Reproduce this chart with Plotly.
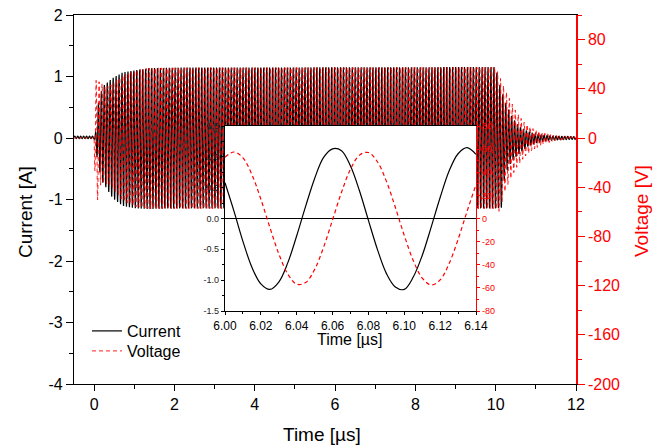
import numpy as np
import plotly.graph_objects as go

# ---------------- data ----------------
# RF carrier: period in microseconds, time of a current / voltage maximum
rf_period_us = 0.0735
current_peak_time = 6.0613
voltage_peak_time = 6.0786

# main-plot envelope of the current [A]
env_time_current = [-0.5, 0.0, 0.03, 0.10, 0.21, 0.46, 0.71, 1.04, 1.375, 2.0, 10.0,
                    10.1, 10.15, 10.22, 10.3, 10.4, 10.52, 10.65, 10.8, 11.0, 11.25, 11.5, 12.0]
env_upper_current = [0.03, 0.03, 0.05, 0.55, 0.84, 0.98, 1.07, 1.11, 1.14, 1.15, 1.16,
                     0.88, 0.78, 0.62, 0.50, 0.36, 0.24, 0.16, 0.11, 0.065, 0.04, 0.03, 0.02]
env_lower_current = [-0.01, -0.01, -0.10, -0.45, -0.72, -0.98, -1.11, -1.15, -1.16, -1.15, -1.15,
                     -1.14, -1.14, -0.66, -0.50, -0.38, -0.30, -0.22, -0.14, -0.08, -0.045, -0.03, -0.02]

# main-plot envelope of the voltage [V]
env_time_voltage = [-0.5, 0.0, 0.04, 0.17, 0.29, 0.46, 0.71, 1.04, 1.4, 10.0,
                    10.1, 10.2, 10.3, 10.5, 10.7, 10.9, 11.2, 11.5, 12.0]
env_upper_voltage = [0.5, 0.5, 47, 45, 41, 44, 51, 55, 57, 57.5,
                     50, 42, 35, 22, 13, 8, 4, 2, 1]
env_lower_voltage = [-0.5, -0.5, -58, -37, -37, -41, -51, -56, -57.5, -57.5,
                     -60, -46, -38, -25, -16, -10, -5, -2, -1]

# inset samples (6.00 - 6.14 us)
inset_time = [6.000, 6.005, 6.010, 6.015, 6.020, 6.025, 6.030, 6.035, 6.040, 6.045,
              6.050, 6.055, 6.060, 6.065, 6.070, 6.075, 6.080, 6.085, 6.090, 6.095,
              6.100, 6.105, 6.110, 6.115, 6.120, 6.125, 6.130, 6.135, 6.140]
inset_current = [0.58, 0.12, -0.37, -0.79, -1.06, -1.15, -1.03, -0.72, -0.28, 0.20,
                 0.65, 0.99, 1.13, 1.10, 0.85, 0.45, -0.03, -0.50, -0.89, -1.11,
                 -1.15, -0.95, -0.60, -0.14, 0.34, 0.77, 1.05, 1.15, 1.04]
inset_voltage = [53, 57.5, 52.5, 38, 16.7, -7.6, -30.5, -48, -56.8, -55.4,
                 -44, -24.8, -1.1, 22.8, 42.7, 54.8, 57.1, 49.1, 32.3, 9.7,
                 -14.7, -36.3, -51.5, -57.5, -53.1, -39, -18.1, 6.1, 29.3]

# tick labels
main_x_ticks = [0, 2, 4, 6, 8, 10, 12]
main_x_labels = ["0", "2", "4", "6", "8", "10", "12"]
main_y_ticks = [-4, -3, -2, -1, 0, 1, 2]
main_y_labels = ["-4", "-3", "-2", "-1", "0", "1", "2"]
main_y2_ticks = [-200, -160, -120, -80, -40, 0, 40, 80]
main_y2_labels = ["-200", "-160", "-120", "-80", "-40", "0", "40", "80"]
inset_x_ticks = [6.00, 6.02, 6.04, 6.06, 6.08, 6.10, 6.12, 6.14]
inset_x_labels = ["6.00", "6.02", "6.04", "6.06", "6.08", "6.10", "6.12", "6.14"]
inset_y_ticks = [-1.5, -1.0, -0.5, 0.0, 0.5, 1.0, 1.5]
inset_y_labels = ["-1.5", "-1.0", "-0.5", "0.0", "0.5", "1.0", "1.5"]
inset_y2_ticks = [-80, -60, -40, -20, 0, 20, 40, 60, 80]
inset_y2_labels = ["-80", "-60", "-40", "-20", "0", "20", "40", "60", "80"]

# ---------------- build main waveforms ----------------
dt = rf_period_us / 14.0
t = np.arange(-0.5, 12.0 + dt / 2, dt)


def carrier(t, env_t, up, lo, t_peak):
    u = np.interp(t, env_t, up)
    l = np.interp(t, env_t, lo)
    return 0.5 * (u + l) + 0.5 * (u - l) * np.cos(2 * np.pi * (t - t_peak) / rf_period_us)


current = carrier(t, env_time_current, env_upper_current, env_lower_current, current_peak_time)
voltage = carrier(t, env_time_voltage, env_upper_voltage, env_lower_voltage, voltage_peak_time)

FONT = "Liberation Sans, Arial, sans-serif"
RED = "#ff0000"
DASH = "4px,3px"

L, R, T, B = 74, 83, 15, 64
W, H = 659, 448
pw, ph = W - L - R, H - T - B


def px_x(x):
    return (x - L) / pw


def px_y(y):
    return (H - B - y) / ph


fig = go.Figure()
fig.add_trace(go.Scatter(x=t, y=current, name="Current", mode="lines",
                         line=dict(color="black", width=1.2, simplify=False),
                         xaxis="x", yaxis="y", legend="legend"))
fig.add_trace(go.Scatter(x=t, y=voltage, name="Voltage", mode="lines",
                         line=dict(color=RED, width=0.9, dash=DASH, simplify=False),
                         xaxis="x", yaxis="y2", legend="legend2"))
fig.add_trace(go.Scatter(x=inset_time, y=inset_current, mode="lines", showlegend=False,
                         line=dict(color="black", width=1.2, shape="spline"),
                         xaxis="x3", yaxis="y3"))
fig.add_trace(go.Scatter(x=inset_time, y=inset_voltage, mode="lines", showlegend=False,
                         line=dict(color=RED, width=1.2, dash=DASH, shape="spline"),
                         xaxis="x3", yaxis="y4"))

common = dict(showgrid=False, zeroline=False, automargin=False,
              tickfont=dict(family=FONT, size=16))

legend_style = dict(xanchor="left", yanchor="middle", bgcolor="rgba(0,0,0,0)", borderwidth=0,
                    font=dict(family=FONT, size=16, color="black"), itemwidth=30)

fig.update_layout(
    template="none",
    width=W, height=H,
    margin=dict(l=L, r=R, t=T, b=B, autoexpand=False),
    paper_bgcolor="white", plot_bgcolor="white",
    font=dict(family=FONT, size=16, color="black"),
    xaxis=dict(domain=[0, 1], anchor="y", range=[-0.5, 12],
               tickvals=main_x_ticks, ticktext=main_x_labels,
               ticks="outside", ticklen=6, tickwidth=1.3, tickcolor="black",
               minor=dict(tickvals=[1, 3, 5, 7, 9, 11], ticks="outside", ticklen=3.5,
                          tickwidth=1.3, tickcolor="black"),
               showline=True, linecolor="black", linewidth=1.3, mirror=True, **common),
    xaxis2=dict(overlaying="x", anchor="y", side="top", range=[-0.5, 12],
                tickvals=main_x_ticks, showticklabels=False,
                ticks="inside", ticklen=8, tickwidth=1.3, tickcolor="black",
                minor=dict(tickvals=[1, 3, 5, 7, 9, 11], ticks="inside", ticklen=4,
                           tickwidth=1.3, tickcolor="black"),
                showline=False, showgrid=False, zeroline=False, automargin=False),
    yaxis=dict(domain=[0, 1], anchor="x", range=[-4, 2],
               tickvals=main_y_ticks, ticktext=main_y_labels,
               ticks="outside", ticklen=7, tickwidth=1.3, tickcolor="black",
               minor=dict(tickvals=[-3.5, -2.5, -1.5, -0.5, 0.5, 1.5], ticks="outside",
                          ticklen=3.5, tickwidth=1.3, tickcolor="black"),
               showline=True, linecolor="black", linewidth=1.3, **common),
    yaxis2=dict(overlaying="y", anchor="x", side="right", range=[-200, 100],
                tickvals=main_y2_ticks, ticktext=main_y2_labels,
                ticks="outside", ticklen=7, tickwidth=1.3, tickcolor=RED,
                minor=dict(tickvals=[-180, -140, -100, -60, -20, 20, 60, 100], ticks="outside",
                           ticklen=4, tickwidth=1.3, tickcolor=RED),
                showline=True, linecolor=RED, linewidth=1.5,
                showgrid=False, zeroline=False, automargin=False,
                tickfont=dict(family=FONT, size=16, color=RED)),
    xaxis3=dict(domain=[px_x(225), px_x(476)], anchor="y3", range=[6.0, 6.14],
                tickvals=inset_x_ticks, ticktext=inset_x_labels,
                ticks="outside", ticklen=3, tickwidth=1, tickcolor="black",
                minor=dict(tickvals=[6.01, 6.03, 6.05, 6.07, 6.09, 6.11, 6.13],
                           ticks="outside", ticklen=2, tickwidth=1, tickcolor="black"),
                showline=True, linecolor="black", linewidth=1.3, mirror=True,
                showgrid=False, zeroline=False, automargin=False,
                tickfont=dict(family=FONT, size=12, color="black")),
    yaxis3=dict(domain=[px_y(311), px_y(126)], anchor="x3", range=[-1.5, 1.5],
                tickvals=inset_y_ticks, ticktext=inset_y_labels,
                ticks="outside", ticklen=3, tickwidth=1, tickcolor="black",
                minor=dict(tickvals=[-1.25, -0.75, -0.25, 0.25, 0.75, 1.25],
                           ticks="outside", ticklen=2, tickwidth=1, tickcolor="black"),
                showline=True, linecolor="black", linewidth=1.3,
                showgrid=False, zeroline=True, zerolinecolor="black", zerolinewidth=1.3,
                automargin=False,
                tickfont=dict(family=FONT, size=9, color="#222222")),
    yaxis4=dict(overlaying="y3", anchor="x3", side="right", range=[-80, 80],
                tickvals=inset_y2_ticks, ticktext=inset_y2_labels,
                ticks="outside", ticklen=3, tickwidth=1, tickcolor=RED,
                minor=dict(tickvals=[-70, -50, -30, -10, 10, 30, 50, 70],
                           ticks="outside", ticklen=2, tickwidth=1, tickcolor=RED),
                showline=True, linecolor=RED, linewidth=1.3,
                showgrid=False, zeroline=False, automargin=False,
                tickfont=dict(family=FONT, size=9, color=RED)),
    legend=dict(x=px_x(87), y=px_y(331), **legend_style),
    legend2=dict(x=px_x(87), y=px_y(351), **legend_style),
    showlegend=True,
    annotations=[
        dict(text="Time [µs]", x=px_x(322), y=px_y(434), xref="paper", yref="paper",
             showarrow=False, xanchor="center", yanchor="middle",
             font=dict(family=FONT, size=19, color="black")),
        dict(text="Current [A]", x=px_x(25), y=px_y(212), xref="paper", yref="paper",
             showarrow=False, xanchor="center", yanchor="middle", textangle=-90,
             font=dict(family=FONT, size=19, color="black")),
        dict(text="Voltage [V]", x=px_x(641), y=px_y(211), xref="paper", yref="paper",
             showarrow=False, xanchor="center", yanchor="middle", textangle=-90,
             font=dict(family=FONT, size=19, color=RED)),
        dict(text="Time [µs]", x=px_x(350), y=px_y(339), xref="paper", yref="paper",
             showarrow=False, xanchor="center", yanchor="middle",
             font=dict(family=FONT, size=16, color="black")),
    ],
)

fig.write_html("out.html", config={"displayModeBar": False},
               post_script="document.body.style.margin='0px';")
